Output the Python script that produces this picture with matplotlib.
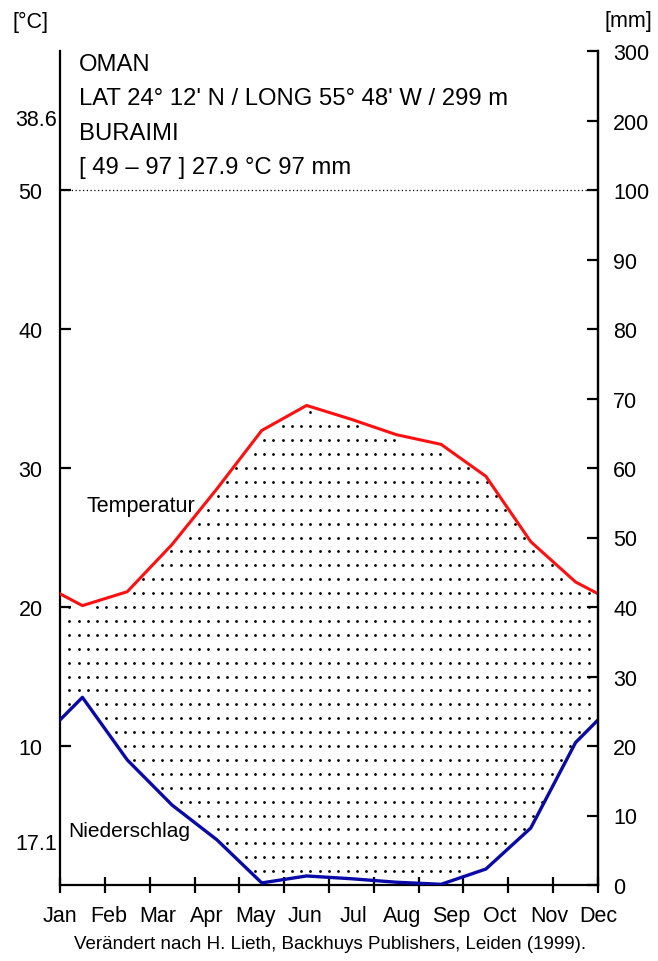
import numpy as np
import matplotlib
matplotlib.use("Agg")
import matplotlib.pyplot as plt
from matplotlib.transforms import blended_transform_factory

plt.rcParams['font.family'] = ['Liberation Sans', 'DejaVu Sans']

# Klimadaten Buraimi (Monatsmittel)
monate = ['Jan', 'Feb', 'Mar', 'Apr', 'May', 'Jun', 'Jul', 'Aug', 'Sep', 'Oct', 'Nov', 'Dec']
temperatur = [20.1, 21.1, 24.5, 28.5, 32.7, 34.5, 33.5, 32.4, 31.7, 29.4, 24.7, 21.8]
niederschlag = [27.0, 18.0, 11.5, 6.5, 0.3, 1.3, 0.9, 0.4, 0.1, 2.3, 8.2, 20.5]
temp_ticks = [10, 20, 30, 40, 50]
mm_ticks = [0, 10, 20, 30, 40, 50, 60, 70, 80, 90, 100, 200, 300]
kopf = ['OMAN', "LAT 24° 12' N / LONG 55° 48' W / 299 m", 'BURAIMI', '[ 49 – 97 ] 27.9 °C 97 mm']


def mm_zu_grad(mm):
    # bis 100 mm: 2 mm = 1 °C, darueber 100 mm = 5 °C
    mm = np.asarray(mm, dtype=float)
    return np.where(mm <= 100, mm / 2, 50 + (mm - 100) / 20)


# Monatsmitte + Raender (Mittel aus Dez/Jan)
x = np.concatenate([[0], np.arange(12) + 0.5, [12]])
rand_t = (temperatur[0] + temperatur[-1]) / 2
rand_n = (niederschlag[0] + niederschlag[-1]) / 2
t = np.concatenate([[rand_t], temperatur, [rand_t]])
n = mm_zu_grad(np.concatenate([[rand_n], niederschlag, [rand_n]]))

fig = plt.figure(figsize=(6.58, 9.62), dpi=100)
ax = fig.add_axes([60/658, 76/962, 538/658, 834/962])
ax.set_xlim(0, 12)
ax.set_ylim(0, 60)

# aride Zeit: Punktraster zwischen den Kurven
gx, gy = np.meshgrid(np.linspace(0, 12, 59)[1:-1], np.arange(1, 50))
gx, gy = gx.ravel(), gy.ravel()
maske = (gy < np.interp(gx, x, t) - 0.3) & (gy > np.interp(gx, x, n) + 0.3)
ax.scatter(gx[maske], gy[maske], s=4, marker='o', color='black', linewidths=0, zorder=1)

ax.plot(x, t, color='#ff1010', lw=2.2, zorder=3)
ax.plot(x, n, color='#0a0aa8', lw=2.4, zorder=3)
ax.axhline(50, color='black', lw=0.9, ls=(0, (1, 2)), zorder=2)

ax.spines['top'].set_visible(False)
for s in ['left', 'right', 'bottom']:
    ax.spines[s].set_linewidth(1.6)

# x-Achse: Striche an Monatsgrenzen, Namen gleichmaessig verteilt
ax.set_xticks(np.arange(13))
ax.set_xticklabels([])
ax.tick_params(axis='x', direction='inout', length=12, width=1.6)
trans = blended_transform_factory(ax.transData, ax.transAxes)
for i, m in enumerate(monate):
    ax.text(i * 12 / 11, -31/834, m, transform=trans, ha='center', va='center', fontsize=15.5)

ax.set_yticks(temp_ticks)
ax.set_yticklabels([str(v) for v in temp_ticks], fontsize=15.5)
ax.tick_params(axis='y', direction='in', length=8, width=1.6, pad=12.5)
ax.text(-0.07, 55.1, '38.6', ha='right', va='center', fontsize=15.5)
ax.text(-0.07, 2.95, '17.1', ha='right', va='center', fontsize=15.5)

ax2 = ax.twinx()
ax2.set_ylim(0, 60)
ax2.set_yticks(mm_zu_grad(mm_ticks))
ax2.set_yticklabels([str(v) for v in mm_ticks], fontsize=15.5)
ax2.tick_params(axis='y', direction='in', length=8, width=1.6, pad=11)
for s in ['top', 'left', 'bottom']:
    ax2.spines[s].set_visible(False)
ax2.spines['right'].set_linewidth(1.6)

fig.text(30/658, 1 - 22/962, '[°C]', ha='center', va='center', fontsize=15.5)
fig.text(628/658, 1 - 22/962, '[mm]', ha='center', va='center', fontsize=15.5)
for i, zeile in enumerate(kopf):
    fig.text(79/658, 1 - (65 + i * 34.3)/962, zeile, ha='left', va='center', fontsize=17.2)

ax.text(0.6, 27.3, 'Temperatur', fontsize=15.5, ha='left', va='center')
ax.text(0.18, 3.9, 'Niederschlag', fontsize=15, ha='left', va='center')

fig.text(330/658, 1 - 945/962, 'Verändert nach H. Lieth, Backhuys Publishers, Leiden (1999).',
         ha='center', va='center', fontsize=13.5)

fig.savefig('out.png', dpi=100)
